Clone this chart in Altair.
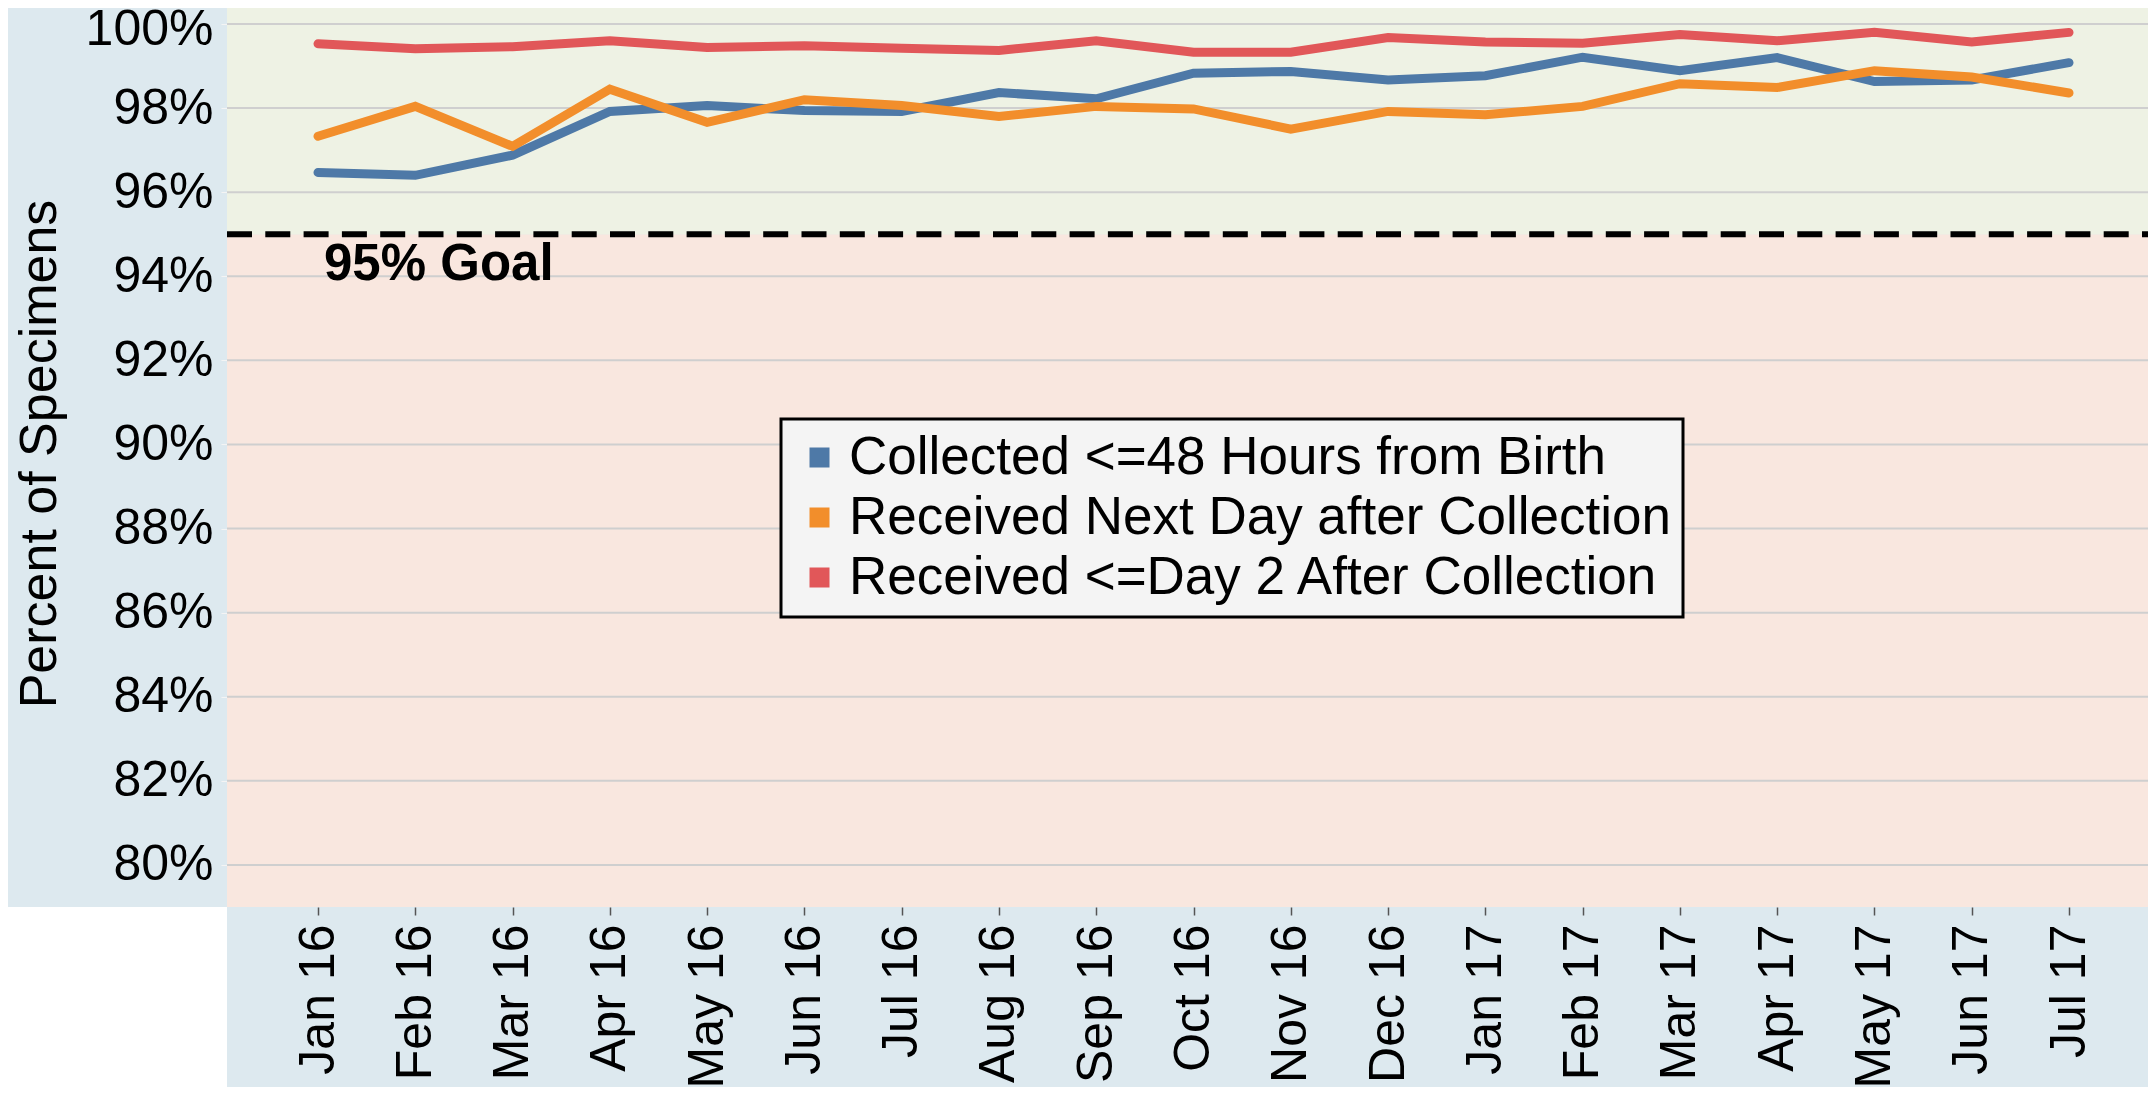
import altair as alt
import pandas as pd

months = ["Jan 16", "Feb 16", "Mar 16", "Apr 16", "May 16", "Jun 16", "Jul 16",
          "Aug 16", "Sep 16", "Oct 16", "Nov 16", "Dec 16", "Jan 17", "Feb 17",
          "Mar 17", "Apr 17", "May 17", "Jun 17", "Jul 17"]
collected = [96.47, 96.40, 96.88, 97.92, 98.06, 97.94, 97.92, 98.37, 98.22, 98.83,
             98.87, 98.67, 98.77, 99.21, 98.89, 99.20, 98.63, 98.67, 99.08]
next_day = [97.33, 98.04, 97.09, 98.45, 97.66, 98.20, 98.06, 97.80, 98.04, 97.98,
            97.50, 97.92, 97.84, 98.04, 98.58, 98.49, 98.89, 98.74, 98.36]
day2 = [99.53, 99.41, 99.46, 99.60, 99.44, 99.48, 99.42, 99.37, 99.60, 99.33,
        99.33, 99.68, 99.57, 99.54, 99.75, 99.60, 99.80, 99.57, 99.80]
series_names = ["Collected <=48 Hours from Birth",
                "Received Next Day after Collection",
                "Received <=Day 2 After Collection"]
series_colors = ["#4e79a7", "#f28e2b", "#e15759"]
y_ticks = [80, 82, 84, 86, 88, 90, 92, 94, 96, 98, 100]
goal = 95
y_min, y_max = 79, 100.38

W, H = 1921, 899
PAD_L, PAD_B = 219, 180
FONT = "Liberation Sans"

rows = []
for name, vals in zip(series_names, [collected, next_day, day2]):
    for m, v in zip(months, vals):
        rows.append({"month": m, "value": v, "series": name})
df = pd.DataFrame(rows)

yscale = alt.Scale(domain=[y_min, y_max], nice=False, zero=False)
yaxis = alt.Axis(values=y_ticks, labelExpr="datum.value + '%'", grid=False, domain=False,
                 ticks=True, tickColor="#f4f4f4", tickSize=6, labelPadding=8,
                 labelOffset={"condition": {"test": "datum.value == 100", "value": 6}, "value": 0},
                 labelFontSize=50, labelFont=FONT, labelColor="#000000",
                 title="Percent of Specimens", titleFontSize=52, titleFont=FONT,
                 titleFontWeight="normal", titleColor="#000000", titleAngle=270,
                 titleX=-188, titleY=H / 2 - 4, titleAlign="center", titleBaseline="middle")
ytitle = "Percent of Specimens"

def Y(field):
    return alt.Y(field, scale=yscale, axis=yaxis, title=ytitle)

xenc = alt.X("month:N", sort=months,
             scale=alt.Scale(type="point", range=[91, 1842], padding=0),
             axis=alt.Axis(labelAngle=270, labelAlign="right", labelBaseline="middle",
                           labelFontSize=50, labelFont=FONT, labelColor="#000000",
                           ticks=True, tickColor="#555555", tickSize=8, tickWidth=1.5,
                           labelPadding=9, domain=False, grid=False, title=None,
                           labelOverlap=False))

band_df = pd.DataFrame({"lo": [y_min, goal], "hi": [goal, y_max]})
pink_band = alt.Chart(band_df.iloc[[0]]).mark_rect(color="#f9e7df").encode(
    y=Y("lo:Q"), y2="hi:Q", x=alt.value(0), x2=alt.value(W))
green_band = alt.Chart(band_df.iloc[[1]]).mark_rect(color="#eef2e4").encode(
    y=Y("lo:Q"), y2="hi:Q", x=alt.value(0), x2=alt.value(W))

corner = alt.Chart(pd.DataFrame({"k": [0]})).mark_rect(color="#ffffff").encode(
    x=alt.value(-PAD_L), x2=alt.value(0), y=alt.value(H), y2=alt.value(H + PAD_B))

grid = alt.Chart(pd.DataFrame({"g": y_ticks})).mark_rule(color="#cfcfcf", strokeWidth=2).encode(
    y=Y("g:Q"), x=alt.value(0), x2=alt.value(W))

goal_rule = alt.Chart(pd.DataFrame({"g": [goal]})).mark_rule(
    color="#000000", strokeWidth=6, strokeDash=[25, 13.3]).encode(
    y=Y("g:Q"), x=alt.value(0), x2=alt.value(W))

goal_text = alt.Chart(pd.DataFrame({"g": [goal], "t": ["95% Goal"]})).mark_text(
    align="left", baseline="alphabetic", dy=46, fontSize=51, fontWeight="bold",
    font=FONT, color="#000000").encode(y=Y("g:Q"), x=alt.value(97), text="t:N")

cscale = alt.Scale(domain=series_names, range=series_colors)

lines = alt.Chart(df).mark_line(strokeWidth=9, strokeCap="round").encode(
    x=xenc, y=Y("value:Q"),
    color=alt.Color("series:N", sort=series_names, scale=cscale, legend=None))

legend_pts = alt.Chart(df).mark_square(size=400, opacity=0, filled=True).encode(
    x=xenc, y=Y("value:Q"),
    color=alt.Color("series:N", sort=series_names, scale=cscale,
                    legend=alt.Legend(title=None, orient="none", legendX=554, legendY=411,
                                      symbolType="square", symbolSize=400,
                                      symbolStrokeWidth=0, symbolOpacity=1,
                                      labelFontSize=53, labelFont=FONT, labelColor="#000000",
                                      labelOffset=3, labelLimit=2000, rowPadding=6,
                                      padding=12, fillColor="#f4f4f4", strokeColor="#000000",
                                      cornerRadius=0)))

chart = alt.layer(pink_band, green_band, corner, grid, goal_rule, goal_text, lines, legend_pts).properties(
    width=W, height=H, autosize="none",
    padding={"left": PAD_L, "top": 0, "right": 0, "bottom": PAD_B},
    background="#dde9ef"
).resolve_legend(color="independent").configure_view(stroke=None).configure_legend(strokeWidth=3)

chart.save("out.html", embed_options={"renderer": "svg", "actions": False})
